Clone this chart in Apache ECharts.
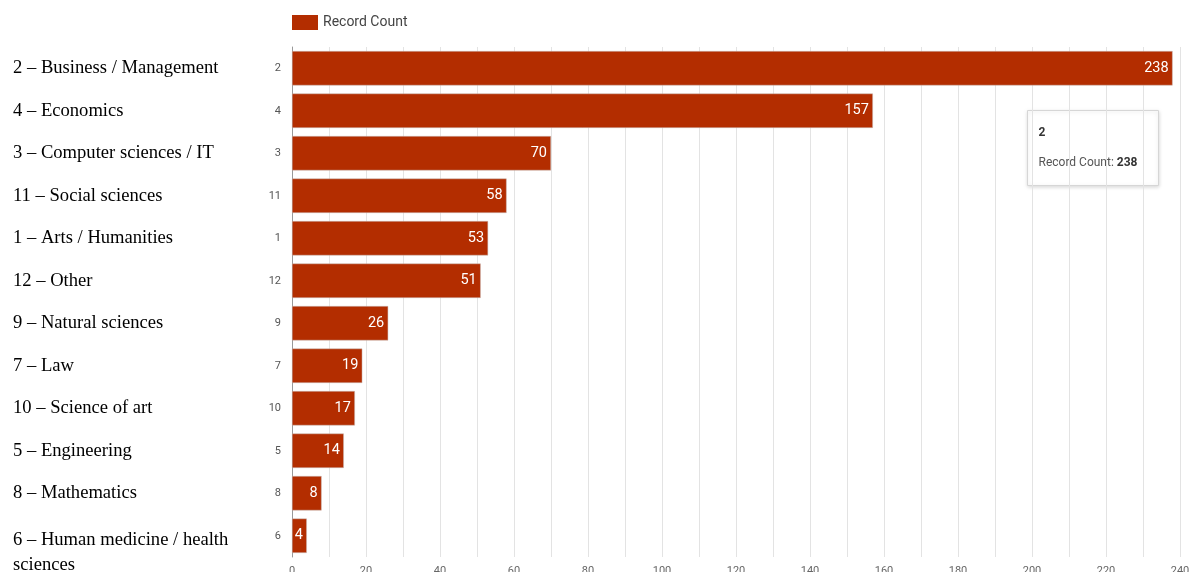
<!DOCTYPE html>
<html>
<head>
<meta charset="utf-8">
<script src="https://cdn.jsdelivr.net/npm/echarts@6/dist/echarts.min.js"></script>
<style>html,body{margin:0;padding:0;background:#fff;}#c{width:1196px;height:572px;}</style>
</head>
<body>
<div id="c"></div>
<script>
const codes = ['2','4','3','11','1','12','9','7','10','5','8','6'];
const names = ['2 – Business / Management','4 – Economics','3 – Computer sciences / IT','11 – Social sciences','1 – Arts / Humanities','12 – Other','9 – Natural sciences','7 – Law','10 – Science of art','5 – Engineering','8 – Mathematics','6 – Human medicine / health\nsciences'];
const values = [238,157,70,58,53,51,26,19,17,14,8,4];
const seriesName = 'Record Count';

const chart = echarts.init(document.getElementById('c'));
const barColor = '#b32d00';
const tipCode = codes[0], tipVal = values[0];

chart.setOption({
  animation: false,
  grid: {left: 292, right: 16, top: 47, bottom: 15, containLabel: false, outerBoundsMode: 'none'},
  legend: {
    data: [{name: seriesName, itemStyle: {borderWidth: 0}}], left: 287, top: 10, itemWidth: 26, itemHeight: 15, itemGap: 6,
    textStyle: {fontFamily: 'Roboto', fontSize: 14, color: '#444'}, icon: 'rect'
  },
  xAxis: {
    type: 'value', min: 0, max: 240, interval: 20,
    axisLine: {show: false}, axisTick: {show: false},
    axisLabel: {fontFamily: 'Roboto', fontSize: 11, color: '#666', margin: 9},
    splitLine: {show: true, lineStyle: {color: '#e3e3e3', width: 1}},
    minorTick: {show: false, splitNumber: 2},
    minorSplitLine: {show: true, lineStyle: {color: '#e3e3e3', width: 1}}
  },
  yAxis: [{
    type: 'category', inverse: true, data: codes,
    axisLine: {show: true, lineStyle: {color: '#999'}}, axisTick: {show: false},
    axisLabel: {fontFamily: 'Roboto', fontSize: 11, color: '#555', margin: 11}
  }, {
    type: 'category', inverse: true, data: names, position: 'left',
    axisLine: {show: false}, axisTick: {show: false}, splitLine: {show: false},
    axisLabel: {
      align: 'left', margin: 279, fontFamily: 'Liberation Serif', fontSize: 18.6, color: '#000',
      formatter: function (v) {
        if (v.indexOf('\n') >= 0) {
          return '{sp| }\n' + v.split('\n').map(s => '{t|' + s + '}').join('\n');
        }
        return v;
      },
      rich: {
        sp: {lineHeight: 33, fontSize: 10},
        t: {lineHeight: 25, fontFamily: 'Liberation Serif', fontSize: 18.6, color: '#000'}
      }
    }
  }],
  series: [{
    name: seriesName, type: 'bar', data: values, barCategoryGap: '19%',
    itemStyle: {color: barColor, borderColor: '#c8bfba', borderWidth: 0.5},
    label: {show: true, position: 'insideRight', color: '#fff', fontFamily: 'Roboto', fontSize: 14.5, distance: 4}
  }],
  graphic: [{
    type: 'group', left: 1027, top: 110,
    children: [
      {type: 'rect', shape: {x: 0, y: 0, width: 131, height: 75},
       style: {fill: '#fff', stroke: '#d6d6d6', lineWidth: 1, shadowBlur: 4, shadowColor: 'rgba(0,0,0,0.15)', shadowOffsetY: 1}},
      {type: 'text', x: 11, y: 22, style: {text: tipCode, fontFamily: 'Roboto', fontSize: 12, fontWeight: 'bold', fill: '#333', verticalAlign: 'middle'}},
      {type: 'text', x: 11, y: 52, style: {
        text: '{a|' + seriesName + ': }{b|' + tipVal + '}',
        rich: {a: {fontFamily: 'Roboto', fontSize: 12, fill: '#555'}, b: {fontFamily: 'Roboto', fontSize: 12, fontWeight: 'bold', fill: '#333'}},
        verticalAlign: 'middle'}}
    ]
  }]
});
</script>
</body>
</html>
